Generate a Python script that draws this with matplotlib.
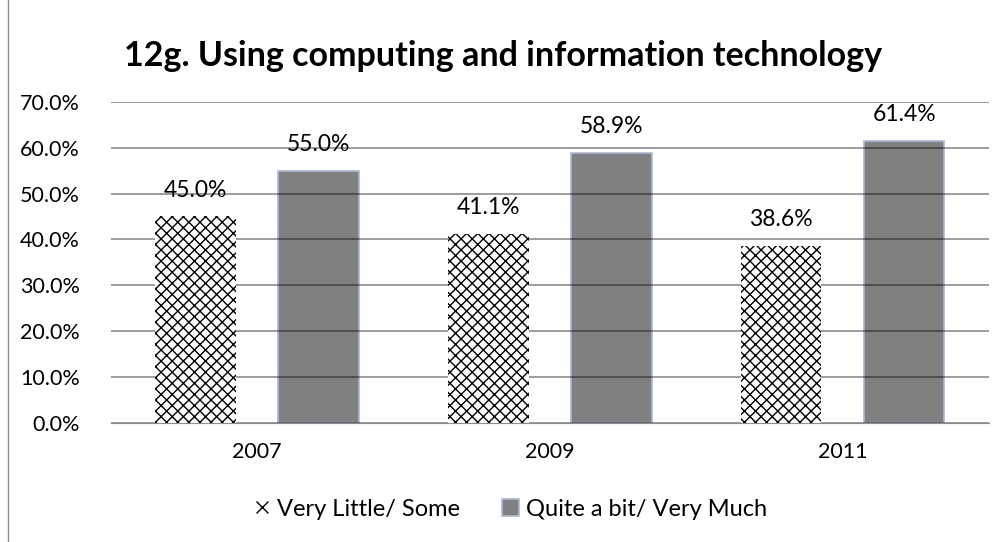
import matplotlib.pyplot as plt
import numpy as np
from matplotlib.lines import Line2D

# datos del grafico
anios = ['2007', '2009', '2011']
poco = [45.0, 41.1, 38.6]
mucho = [55.0, 58.9, 61.4]
etiquetas = ['Very Little/ Some', 'Quite a bit/ Very Much']

plt.rcParams['font.family'] = ['Lato', 'DejaVu Sans']
plt.rcParams['hatch.linewidth'] = 1.0

fig = plt.figure(figsize=(9.96, 5.42), dpi=100)
ax = fig.add_axes([0.111, 0.22, 0.882, 0.592])

x = np.arange(len(anios))
ancho = 0.275
# las barras grises quedan debajo de la rejilla, las rayadas encima
b2 = ax.bar(x + 0.21, mucho, ancho, color='#808080', edgecolor='#a9b9d9',
            linewidth=1.2, label=etiquetas[1], zorder=1)
b1 = ax.bar(x - 0.21, poco, ancho, color='white', edgecolor='black', hatch='xxx',
            linewidth=0, label=etiquetas[0], zorder=3)

for barras in (b1, b2):
    for b in barras:
        ax.annotate(f'{b.get_height():.1f}%', (b.get_x() + b.get_width() / 2, b.get_height()),
                    xytext=(0, 19), textcoords='offset points',
                    ha='center', va='center', fontsize=16.5, zorder=4)

ax.set_xlim(-0.5, 2.5)
ax.set_ylim(0, 70)
ax.set_yticks(np.arange(0, 71, 10))
ax.set_yticklabels([f'{v:.1f}%' for v in range(0, 71, 10)], fontsize=15.5)
ax.set_xticks(x)
ax.set_xticklabels(anios, fontsize=15.5)
ax.set_axisbelow(False)
ax.yaxis.grid(True, color='black', alpha=0.45, linewidth=1.2)
ax.tick_params(axis='y', length=0, pad=22)
ax.tick_params(axis='x', length=0, pad=14)
for lado in ['top', 'right', 'left']:
    ax.spines[lado].set_visible(False)
ax.spines['bottom'].set_color('#8c8c8c')

fig.text(0.505, 0.897, '12g. Using computing and information technology',
         ha='center', va='center', fontsize=24.5, fontweight='bold')

# leyenda: una pequena x para la serie rayada
marca_x = Line2D([], [], linestyle='none', marker='x', markersize=8,
                 markeredgewidth=1.0, color='black')
ax.legend(handles=[marca_x, b2], labels=etiquetas, loc='upper center',
          bbox_to_anchor=(0.455, -0.17), ncol=2, frameon=False, fontsize=17,
          handlelength=0.7, handleheight=0.7, columnspacing=1.8, handletextpad=0.3)

# borde izquierdo del recuadro
fig.add_artist(Line2D([0.0085, 0.0085], [0, 1], transform=fig.transFigure,
                      color='#8c8c8c', linewidth=1))

fig.savefig('out.png', dpi=100)
